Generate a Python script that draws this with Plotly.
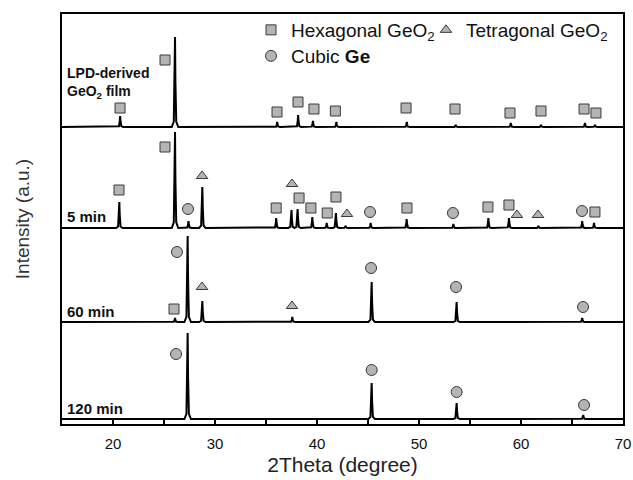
import plotly.graph_objects as go

# ---------------- data ----------------
x_range = [15, 70]
# y in arbitrary intensity units (stacked patterns)
sample_labels = ["LPD-derived<br>GeO<sub>2</sub> film", "5 min", "60 min", "120 min"]
baselines = [297, 196, 102, 5]

lpd_pos = [20.7, 26.08, 36.1, 38.15, 39.6, 41.9, 48.8, 53.6, 59.0, 61.96, 66.27, 67.25]
lpd_hgt = [11, 90, 5, 12, 6, 5, 5, 2, 4, 2, 4, 2]

m5_pos = [20.62, 26.08, 27.4, 28.76, 36.0, 37.5, 38.1, 39.54, 40.95, 41.86, 42.8,
          45.26, 48.79, 53.37, 56.8, 58.82, 61.7, 66.0, 67.16]
m5_hgt = [26, 96, 7, 41, 10, 18, 19, 11, 5, 15, 2, 5, 9, 4, 10, 10, 2, 7, 5]

m60_pos = [26.08, 27.32, 28.76, 37.58, 45.36, 53.69, 66.0]
m60_hgt = [4, 86, 21, 5, 40, 20, 4]

m120_pos = [27.32, 45.36, 53.69, 66.1]
m120_hgt = [86, 36, 16, 4]

peaks_pos = [lpd_pos, m5_pos, m60_pos, m120_pos]
peaks_hgt = [lpd_hgt, m5_hgt, m60_hgt, m120_hgt]

# phase markers (2theta, stacked intensity)
hex_x = [20.69, 25.1, 36.08, 38.14, 39.7, 41.8, 48.73, 53.53, 58.92, 61.96, 66.18, 67.35,
         20.59, 25.1, 36.0, 38.24, 39.4, 41.0, 41.86, 48.82, 56.76, 58.82, 67.25,
         25.98]
hex_y = [316, 364, 312, 322, 315, 313, 316, 315, 311, 313, 315, 311,
         234, 277, 216, 226, 216, 211, 227, 216, 217, 219, 212,
         115]
tet_x = [28.73, 37.55, 42.94, 59.6, 61.67,
         28.73, 37.55]
tet_y = [248, 240, 210, 209, 209,
         137, 118]
cub_x = [27.35, 45.2, 53.33, 65.98,
         26.27, 45.3, 53.63, 66.08,
         26.18, 45.36, 53.69, 66.18]
cub_y = [215, 212, 211, 213,
         172, 156, 137, 117,
         70, 54, 32, 19]

x_ticks = [20, 30, 40, 50, 60, 70]

# ---------------- style ----------------
FONT = "Liberation Sans, Arial, sans-serif"
fill = "#b4b4b4"
edge = "#3a3a3a"
w = 0.08
prof_off = [-4, -1.5, -0.5, 0, 0.5, 1.5, 4]
prof_frac = [0, 0.06, 0.5, 1, 0.5, 0.06, 0]

fig = go.Figure()

for base, pos, hgt in zip(baselines, peaks_pos, peaks_hgt):
    xs, ys = [x_range[0]], [base]
    for p, h in sorted(zip(pos, hgt)):
        for o, f in zip(prof_off, prof_frac):
            xs.append(p + o * w)
            ys.append(base + h * f)
    xs.append(x_range[1])
    ys.append(base)
    fig.add_trace(go.Scatter(x=xs, y=ys, mode="lines",
                             line=dict(color="black", width=2),
                             showlegend=False, hoverinfo="skip"))

fig.add_trace(go.Scatter(x=hex_x, y=hex_y, mode="markers", name="Hexagonal GeO<sub>2</sub>",
                         marker=dict(symbol="square", size=10, color=fill,
                                     line=dict(color=edge, width=1)),
                         legend="legend"))
fig.add_trace(go.Scatter(x=tet_x, y=tet_y, mode="markers", name="Tetragonal GeO<sub>2</sub>",
                         marker=dict(symbol="triangle-up", size=10, color=fill,
                                     line=dict(color=edge, width=1)),
                         legend="legend2"))
fig.add_trace(go.Scatter(x=cub_x, y=cub_y, mode="markers", name="Cubic <b>Ge</b>",
                         marker=dict(symbol="circle", size=11, color=fill,
                                     line=dict(color=edge, width=1)),
                         legend="legend3"))

W, H = 633, 480
# plot area in page pixels
PL, PR, PT, PB = 62, 623, 14, 424
def px2paper_x(px):
    return (px - PL) / (PR - PL)
def px2paper_y(py):
    return (PB - py) / (PB - PT)

leg_common = dict(bgcolor="rgba(0,0,0,0)", font=dict(family=FONT, size=19, color="#111"),
                  xanchor="left", yanchor="middle", borderwidth=0, itemwidth=30)
fig.update_layout(
    legend=dict(x=px2paper_x(251), y=px2paper_y(30), **leg_common),
    legend2=dict(x=px2paper_x(426), y=px2paper_y(30), **leg_common),
    legend3=dict(x=px2paper_x(251), y=px2paper_y(56), **leg_common),
)

label_py = [83, 216, 311, 408]
for txt, py in zip(sample_labels, label_py):
    fig.add_annotation(xref="paper", yref="paper", x=px2paper_x(65), y=px2paper_y(py),
                       xanchor="left", yanchor="middle", align="left", showarrow=False,
                       text="<b>" + txt + "</b>",
                       font=dict(family=FONT, size=14 if py == 83 else 15, color="#111"))

fig.update_layout(
    width=W, height=H,
    margin=dict(l=PL, r=W - PR, t=PT, b=H - PB),
    paper_bgcolor="white", plot_bgcolor="white",
    font=dict(family=FONT, color="#222"),
    xaxis=dict(range=x_range, showline=True, mirror=True, linecolor="black", linewidth=2,
               showgrid=False, zeroline=False, ticks="inside", ticklen=5, tickwidth=1.5,
               tickcolor="black", tickvals=x_ticks, ticklabelstandoff=5, automargin=False,
               minor=dict(dtick=5, tick0=15, ticks="inside", ticklen=5, tickwidth=1.5,
                          tickcolor="black", showgrid=False),
               tickfont=dict(family=FONT, size=15, color="#111"),
               title=dict(text="2Theta (degree)", font=dict(family=FONT, size=21, color="#222"),
                          standoff=6)),
    yaxis=dict(range=[0, PB - PT], showline=True, mirror=True, linecolor="black", linewidth=2,
               showgrid=False, zeroline=False, showticklabels=False, ticks="", automargin=False,
               title=dict(text="Intensity (a.u.)", font=dict(family=FONT, size=19, color="#333"),
                          standoff=25)),
)

fig.write_html("out.html", config={"displayModeBar": False},
               post_script="document.body.style.margin='0';document.body.style.overflow='hidden';")
